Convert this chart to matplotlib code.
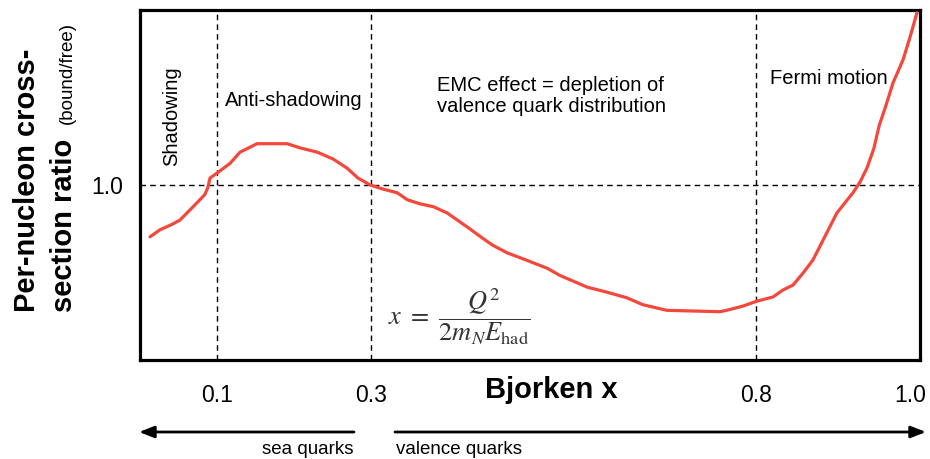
import numpy as np
import matplotlib
matplotlib.use("Agg")
import matplotlib.pyplot as plt

plt.rcParams['font.family'] = ['Liberation Sans', 'DejaVu Sans']
plt.rcParams['mathtext.fontset'] = 'stix'

# curve: Bjorken x vs bound/free ratio
bj_x = [0.013, 0.026, 0.042, 0.052, 0.069, 0.084, 0.088, 0.091, 0.100, 0.117,
        0.130, 0.152, 0.191, 0.208, 0.230, 0.251, 0.269, 0.283, 0.299, 0.316,
        0.334, 0.347, 0.364, 0.381, 0.399, 0.425, 0.445, 0.458, 0.477, 0.494,
        0.529, 0.545, 0.581, 0.606, 0.632, 0.653, 0.684, 0.718, 0.753, 0.762,
        0.783, 0.801, 0.822, 0.835, 0.848, 0.861, 0.874, 0.887, 0.905, 0.926,
        0.935, 0.944, 0.953, 0.960, 0.968, 0.978, 0.991, 1.000, 1.009]
ratio = [0.926, 0.936, 0.944, 0.950, 0.969, 0.986, 0.996, 1.010, 1.017, 1.031,
         1.047, 1.059, 1.059, 1.053, 1.047, 1.037, 1.024, 1.010, 1.000, 0.994,
         0.989, 0.979, 0.973, 0.969, 0.960, 0.940, 0.924, 0.914, 0.903, 0.896,
         0.881, 0.871, 0.854, 0.847, 0.839, 0.829, 0.821, 0.820, 0.819, 0.821,
         0.827, 0.834, 0.840, 0.850, 0.857, 0.874, 0.893, 0.921, 0.960, 0.989,
         1.004, 1.024, 1.052, 1.085, 1.111, 1.146, 1.179, 1.211, 1.246]

region_edges = [0.1, 0.3, 0.8]
xtick_vals = [0.1, 0.3, 0.8, 1.0]
xtick_labels = ["0.1", "0.3", "0.8", "1.0"]

W, H = 930, 459
fig = plt.figure(figsize=(W / 100, H / 100), dpi=100)
ax = fig.add_axes([140 / W, 1 - 360 / H, 780 / W, 350 / H])

def fx(x):
    return x / W

def fy(y):
    return 1 - y / H

red = '#f4483c'
ax.plot(bj_x, ratio, color=red, lw=2.3, solid_capstyle='round', zorder=3)

for e in region_edges:
    ax.axvline(e, color='black', lw=1.0, ls=(0, (4, 3)), zorder=1)
ax.axhline(1.0, color='black', lw=1.0, ls=(0, (4, 3)), zorder=1)

ax.set_xlim(0, 1.013)
ax.set_ylim(0.75, 1.25)
ax.set_xticks(xtick_vals)
ax.set_xticklabels(xtick_labels, fontsize=16.5)
ax.get_xticklabels()[-1].set_x(1.005)
ax.set_yticks([1.0])
ax.set_yticklabels(["1.0"], fontsize=16.5)
ax.tick_params(length=0)
ax.tick_params(axis='x', pad=17)
ax.tick_params(axis='y', pad=12)
for s in ax.spines.values():
    s.set_linewidth(2.3)

# region labels
fs = 14.5
ax.text(fx(172), fy(116), "Shadowing", transform=fig.transFigure, rotation=90,
        ha='center', va='center', fontsize=fs)
ax.text(fx(225), fy(100), "Anti-shadowing", transform=fig.transFigure,
        ha='left', va='center', fontsize=fs)
ax.text(fx(437), fy(96), "EMC effect = depletion of\nvalence quark distribution",
        transform=fig.transFigure, ha='left', va='center', fontsize=fs,
        linespacing=1.15)
ax.text(fx(770), fy(79), "Fermi motion", transform=fig.transFigure,
        ha='left', va='center', fontsize=fs)

ax.text(fx(459), fy(317), r'$x\ =\ \dfrac{Q^2}{2m_N E_{\mathrm{had}}}$',
        transform=fig.transFigure, ha='center', va='center', fontsize=19,
        color='#333333')

# axis titles
fig.text(fx(551), fy(390), "Bjorken x", ha='center', va='center',
         fontsize=21, fontweight='bold')
fig.text(fx(27), fy(312), "Per-nucleon cross-", rotation=90, ha='center',
         va='bottom', fontsize=21, fontweight='bold')
fig.text(fx(64), fy(312), "section ratio", rotation=90, ha='center',
         va='bottom', fontsize=21, fontweight='bold')
fig.text(fx(67), fy(124), "(bound/free)", rotation=90, ha='center',
         va='bottom', fontsize=13.5)

# sea / valence arrows
arrow = dict(arrowstyle='-|>,head_length=0.9,head_width=0.35', color='black',
             lw=2.0, shrinkA=0, shrinkB=0)
ax.annotate("", xy=(fx(139), fy(432)), xytext=(fx(354), fy(432)),
            xycoords='figure fraction', textcoords='figure fraction',
            arrowprops=arrow, annotation_clip=False)
ax.annotate("", xy=(fx(926), fy(432)), xytext=(fx(395), fy(432)),
            xycoords='figure fraction', textcoords='figure fraction',
            arrowprops=arrow, annotation_clip=False)
fig.text(fx(354), fy(450), "sea quarks", ha='right', va='center', fontsize=13.5)
fig.text(fx(396), fy(450), "valence quarks", ha='left', va='center', fontsize=13.5)

fig.savefig("out.png", dpi=100)
